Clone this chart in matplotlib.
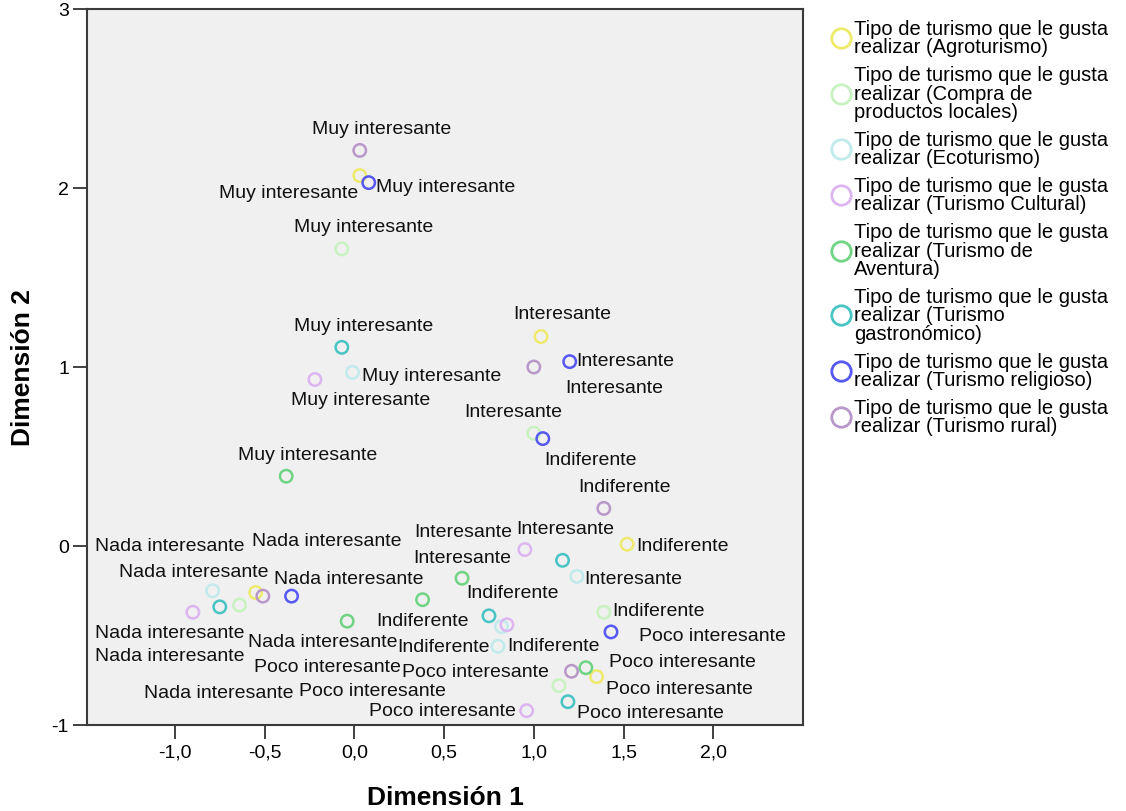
import textwrap

import matplotlib
matplotlib.use("Agg")
import matplotlib.pyplot as plt
from matplotlib.lines import Line2D
from matplotlib.ticker import FixedLocator, FuncFormatter

plt.rcParams['font.family'] = ['Liberation Sans', 'DejaVu Sans']

# Categorías de la variable y niveles de valoración
tipos = [
    "Tipo de turismo que le gusta realizar (Agroturismo)",
    "Tipo de turismo que le gusta realizar (Compra de productos locales)",
    "Tipo de turismo que le gusta realizar (Ecoturismo)",
    "Tipo de turismo que le gusta realizar (Turismo Cultural)",
    "Tipo de turismo que le gusta realizar (Turismo de Aventura)",
    "Tipo de turismo que le gusta realizar (Turismo gastronómico)",
    "Tipo de turismo que le gusta realizar (Turismo religioso)",
    "Tipo de turismo que le gusta realizar (Turismo rural)",
]
niveles = ["Muy interesante", "Interesante", "Indiferente",
           "Poco interesante", "Nada interesante"]

# Coordenadas de las categorías (una fila por tipo, una columna por nivel)
dim1 = [
    [0.03, 1.04, 1.52, 1.35, -0.55],
    [-0.07, 1.00, 1.39, 1.14, -0.64],
    [-0.01, 1.24, 0.80, 0.82, -0.79],
    [-0.22, 0.95, 0.85, 0.96, -0.90],
    [-0.38, 0.60, 0.38, 1.29, -0.04],
    [-0.07, 1.16, 0.75, 1.19, -0.75],
    [0.08, 1.20, 1.05, 1.43, -0.35],
    [0.03, 1.00, 1.39, 1.21, -0.51],
]
dim2 = [
    [2.07, 1.17, 0.01, -0.73, -0.26],
    [1.66, 0.63, -0.37, -0.78, -0.33],
    [0.97, -0.17, -0.56, -0.45, -0.25],
    [0.93, -0.02, -0.44, -0.92, -0.37],
    [0.39, -0.18, -0.30, -0.68, -0.42],
    [1.11, -0.08, -0.39, -0.87, -0.34],
    [2.03, 1.03, 0.60, -0.48, -0.28],
    [2.21, 1.00, 0.21, -0.70, -0.28],
]

colores = ['#eeea6c', '#c8f2c0', '#c0eaec', '#dcb6f0',
           '#70d484', '#48c4c4', '#5858f2', '#b898c8']

# desplazamiento de cada etiqueta respecto a su punto (px, hacia abajo positivo)
label_offsets = [
    [(-71, 17), (21, -23), (55, 1), (83, 12), (71, -52)],
    [(22, -22), (-21, -22), (55, -2), (-187, 5), (-21, 87)],
    [(79, 3), (56, 2), (-54, 0), (-174, 40), (-43, -45)],
    [(46, 20), (-62, -18), (47, 21), (-84, 0), (-23, 20)],
    [(21, -22), (0, -21), (0, 21), (97, -6), (-24, 20)],
    [(22, -22), (3, -32), (24, -23), (83, 11), (-50, 49)],
    [(77, 4), (56, -1), (48, 21), (101, 4), (57, -18)],
    [(22, -22), (80, 21), (21, -22), (-96, 0), (-69, -25)],
]

W, H = 1126, 812
fig = plt.figure(figsize=(W / 100, H / 100), dpi=100)
ax = fig.add_axes([87 / W, 1 - 726 / H, 716 / W, 716 / H])
ax.set_facecolor('#f0f0f0')

for i, tipo in enumerate(tipos):
    ax.scatter(dim1[i], dim2[i], s=80, facecolors='none',
               edgecolors=colores[i], linewidths=1.8, zorder=3)
    for j, nivel in enumerate(niveles):
        dx, dy = label_offsets[i][j]
        ax.annotate(nivel, (dim1[i][j], dim2[i][j]), xytext=(dx, -dy),
                    textcoords='offset pixels', ha='center', va='center',
                    fontsize=14, color='#111111', zorder=4)

ax.set_xlim(-1.49, 2.5)
ax.set_ylim(-1, 3)
ax.xaxis.set_major_locator(FixedLocator([-1.0, -0.5, 0.0, 0.5, 1.0, 1.5, 2.0]))
ax.yaxis.set_major_locator(FixedLocator([-1, 0, 1, 2, 3]))
ax.xaxis.set_major_formatter(FuncFormatter(lambda v, p: f"{v:.1f}".replace('.', ',')))
ax.yaxis.set_major_formatter(FuncFormatter(lambda v, p: f"{v:.0f}"))
ax.tick_params(axis='both', direction='out', length=10, width=1.3,
               color='#333333', labelsize=14, pad=3)

for sp in ax.spines.values():
    sp.set_color('#3a3a3a')
    sp.set_linewidth(1.5)

ax.set_xlabel("Dimensión 1", fontsize=19, fontweight='bold', labelpad=18)
ax.set_ylabel("Dimensión 2", fontsize=19, fontweight='bold', labelpad=12)

handles = [Line2D([], [], ls='', marker='o', ms=14, mfc='none',
                  mec=c, mew=2) for c in colores]
leg = fig.legend(handles, [textwrap.fill(t, 28) for t in tipos],
                 loc='upper left', bbox_to_anchor=(832 / W, 1 - 20 / H),
                 frameon=False, fontsize=14.5, handlelength=0.9,
                 handletextpad=0.2, labelspacing=0.45, borderpad=0,
                 borderaxespad=0)
for t in leg.get_texts():
    t.set_linespacing(0.95)

fig.savefig("out.png", dpi=100)
